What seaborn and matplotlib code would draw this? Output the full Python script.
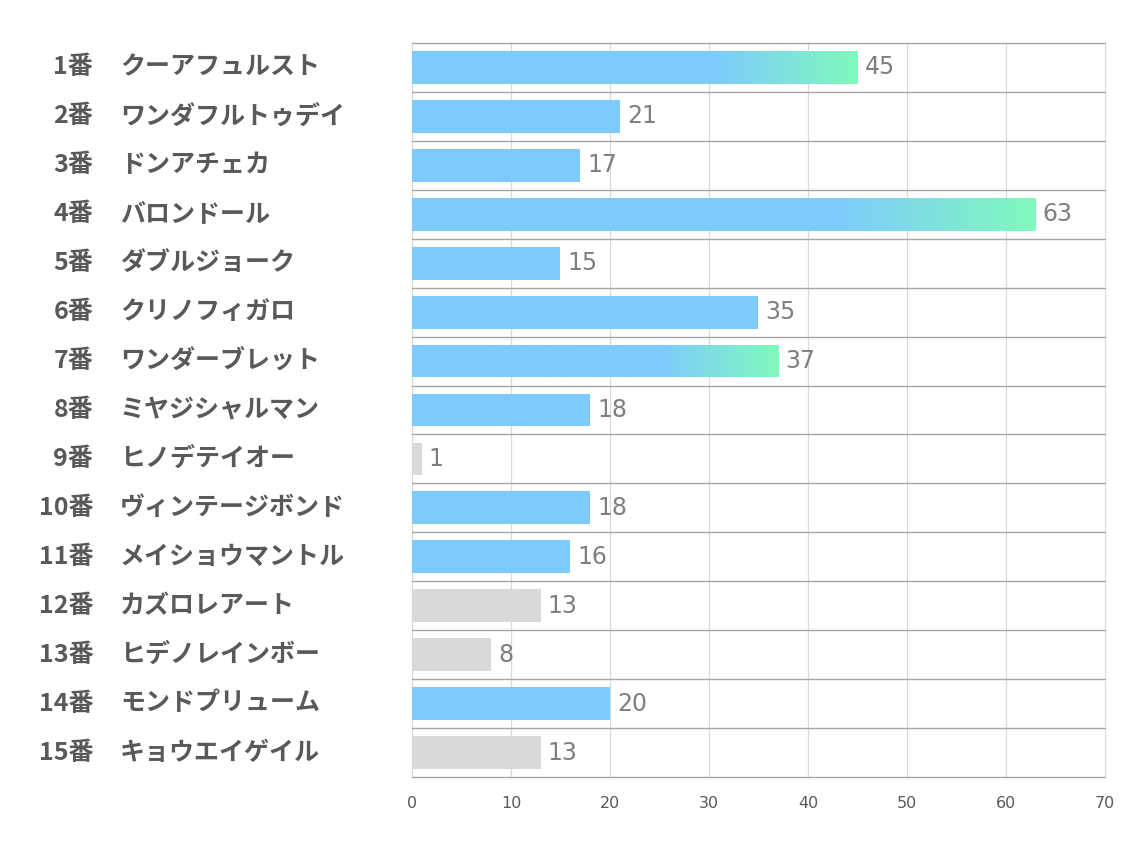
import numpy as np
import pandas as pd
import matplotlib
matplotlib.use("Agg")
import matplotlib.pyplot as plt
import matplotlib.colors as mcolors
import seaborn as sns

numbers = ["1番", "2番", "3番", "4番", "5番", "6番", "7番", "8番", "9番", "10番",
           "11番", "12番", "13番", "14番", "15番"]
names = ["クーアフュルスト", "ワンダフルトゥデイ", "ドンアチェカ", "バロンドール", "ダブルジョーク",
         "クリノフィガロ", "ワンダーブレット", "ミヤジシャルマン", "ヒノデテイオー", "ヴィンテージボンド",
         "メイショウマントル", "カズロレアート", "ヒデノレインボー", "モンドプリューム", "キョウエイゲイル"]
values = [45, 21, 17, 63, 15, 35, 37, 18, 1, 18, 16, 13, 8, 20, 13]
kind = ["grad", "blue", "blue", "grad", "blue", "blue", "grad", "blue", "gray", "blue",
        "blue", "gray", "gray", "blue", "gray"]

BLUE = "#7dcbfd"
GREEN = "#80f9bc"
GRAY = "#d9d9d9"
color_map = {"blue": BLUE, "grad": BLUE, "gray": GRAY}
NARROW = ["Liberation Sans Narrow", "DejaVu Sans"]

sns.set_style("white")
plt.rcParams["font.family"] = ["Noto Sans CJK JP", "DejaVu Sans"]

df = pd.DataFrame({"label": numbers, "value": values, "kind": kind})

fig = plt.figure(figsize=(11.34, 8.5), dpi=100)
ax = fig.add_axes([0.3633, 0.0859, 0.6111, 0.8635])

sns.barplot(data=df, x="value", y="label", hue="label", orient="h",
            palette=[color_map[k] for k in kind], legend=False, width=0.67,
            saturation=1, linewidth=0, ax=ax)

# gradient fill on selected bars
cmap = mcolors.LinearSegmentedColormap.from_list(
    "bg", [(0, BLUE), (0.68, BLUE), (1, GREEN)])
grad = np.linspace(0, 1, 256).reshape(1, -1)
for patch, k in zip(ax.patches, kind):
    if k != "grad":
        continue
    x0, y0 = patch.get_x(), patch.get_y()
    w, h = patch.get_width(), patch.get_height()
    im = ax.imshow(grad, cmap=cmap, aspect="auto", extent=[x0, x0 + w, y0 + h, y0],
                   zorder=patch.get_zorder() + 0.1)
    im.set_clip_path(patch)

# value labels
for patch, v in zip(ax.patches, values):
    ax.text(patch.get_width() + 0.7, patch.get_y() + patch.get_height() / 2, str(v),
            va="center", ha="left", fontsize=17, color="#7f7f7f", family=NARROW)

ax.set_xlim(0, 70)
ax.set_ylim(len(values) - 0.5, -0.5)
ax.set_xticks(range(0, 71, 10))
ax.tick_params(axis="x", length=0, pad=14, labelsize=11.5, labelcolor="#595959")
for t in ax.get_xticklabels():
    t.set_family(NARROW)
ax.set_yticks([])
ax.set_xlabel("")
ax.set_ylabel("")

# grid
for xv in range(0, 71, 10):
    ax.axvline(xv, color="#d9d9d9", lw=0.9, zorder=0, clip_on=False)
for i in range(len(values) + 1):
    ax.axhline(i - 0.5, color="#a6a6a6", lw=1.0, zorder=0.5, clip_on=False)
for s in ax.spines.values():
    s.set_visible(False)

# two-column y labels
trans = ax.get_yaxis_transform()
for i, (n, nm) in enumerate(zip(numbers, names)):
    ax.text(-0.460, i, n, transform=trans, ha="right", va="center",
            fontsize=18, fontweight="bold", color="#595959")
    ax.text(-0.4214, i, nm, transform=trans, ha="left", va="center",
            fontsize=18, fontweight="bold", color="#595959")

fig.savefig("out.png", dpi=100, facecolor="white")
